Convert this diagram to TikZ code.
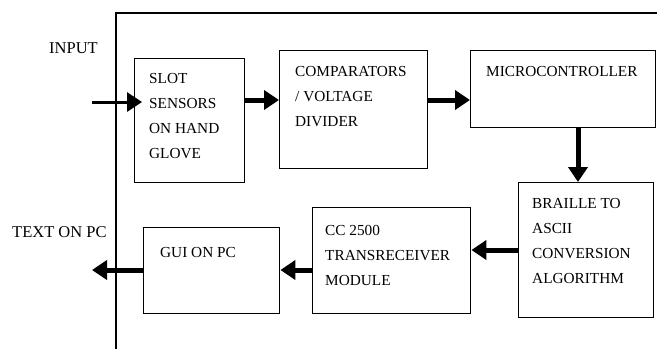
\documentclass[tikz,border=0pt]{standalone}
\usepackage{fontspec}
\setmainfont{Liberation Serif}
\usetikzlibrary{positioning, arrows.meta, calc}

\tikzset{
  blk/.style={draw, line width=1.4pt, inner sep=0pt, anchor=north west},
  lbl/.style={inner sep=0pt, anchor=north west, align=left,
    font=\fontsize{15.3}{25}\selectfont},
  outlbl/.style={lbl, font=\fontsize{16.5}{25}\selectfont},
  flow/.style={line width=5pt, -{Triangle[length=15pt, width=19pt]}},
}

\begin{document}
\begin{tikzpicture}[x=1pt, y=-1pt]
  \useasboundingbox (0,0) rectangle (657,349);
  % open frame
  \draw[line width=1.4pt] (116,349) -- (116,13) -- (657,13);

  % blocks
  \node[blk, minimum width=110pt, minimum height=124pt] (slot) at (134,58) {};
  \node[blk, minimum width=148pt, minimum height=118pt] (comp) at (279,50) {};
  \node[blk, minimum width=185pt, minimum height=77pt] (micro) at (470,50) {};
  \node[blk, minimum width=135pt, minimum height=135pt] (braille) at (518,182) {};
  \node[blk, minimum width=158pt, minimum height=106pt] (cc) at (312,207) {};
  \node[blk, minimum width=136pt, minimum height=86pt] (gui) at (143,227) {};

  % texts
  \node[lbl] at ([xshift=15pt, yshift=-15pt]slot.north west) {SLOT\\SENSORS\\ON HAND\\GLOVE};
  \node[lbl] at ([xshift=16pt, yshift=-16pt]comp.north west) {COMPARATORS\\/ VOLTAGE\\DIVIDER};
  \node[lbl] at ([xshift=16pt, yshift=-16pt]micro.north west) {MICROCONTROLLER};
  \node[lbl] at ([xshift=14pt, yshift=-16pt]braille.north west) {BRAILLE TO\\ASCII\\CONVERSION\\ALGORITHM};
  \node[lbl] at ([xshift=13pt, yshift=-18pt]cc.north west) {CC 2500\\TRANSRECEIVER\\MODULE};
  \node[lbl] at ([xshift=17pt, yshift=-20pt]gui.north west) {GUI ON PC};
  \node[outlbl] (inlbl) at (49,42) {INPUT};
  \node[outlbl] (txtlbl) at (12,226) {TEXT ON PC};

  % connectors
  \coordinate (inp) at (92,102);
  \coordinate (outp) at (92,270);
  \draw[flow, line width=3pt] (inp) -- ([xshift=8pt]inp -| slot.west);
  \draw[flow] ([yshift=-42pt]slot.north east) -- ([yshift=-42pt]slot.north east -| comp.west);
  \draw[flow] ([yshift=-50pt]comp.north east) -- ([yshift=-50pt]comp.north east -| micro.west);
  \draw[flow] ([xshift=108pt]micro.south west) -- ([xshift=108pt]micro.south west |- braille.north);
  \draw[flow] ([yshift=-68pt]braille.north west) -- ([yshift=-68pt]braille.north west -| cc.east);
  \draw[flow] ([yshift=-63pt]cc.north west) -- ([yshift=-63pt]cc.north west -| gui.east);
  \draw[flow] (outp -| gui.west) -- (outp);
\end{tikzpicture}
\end{document}
